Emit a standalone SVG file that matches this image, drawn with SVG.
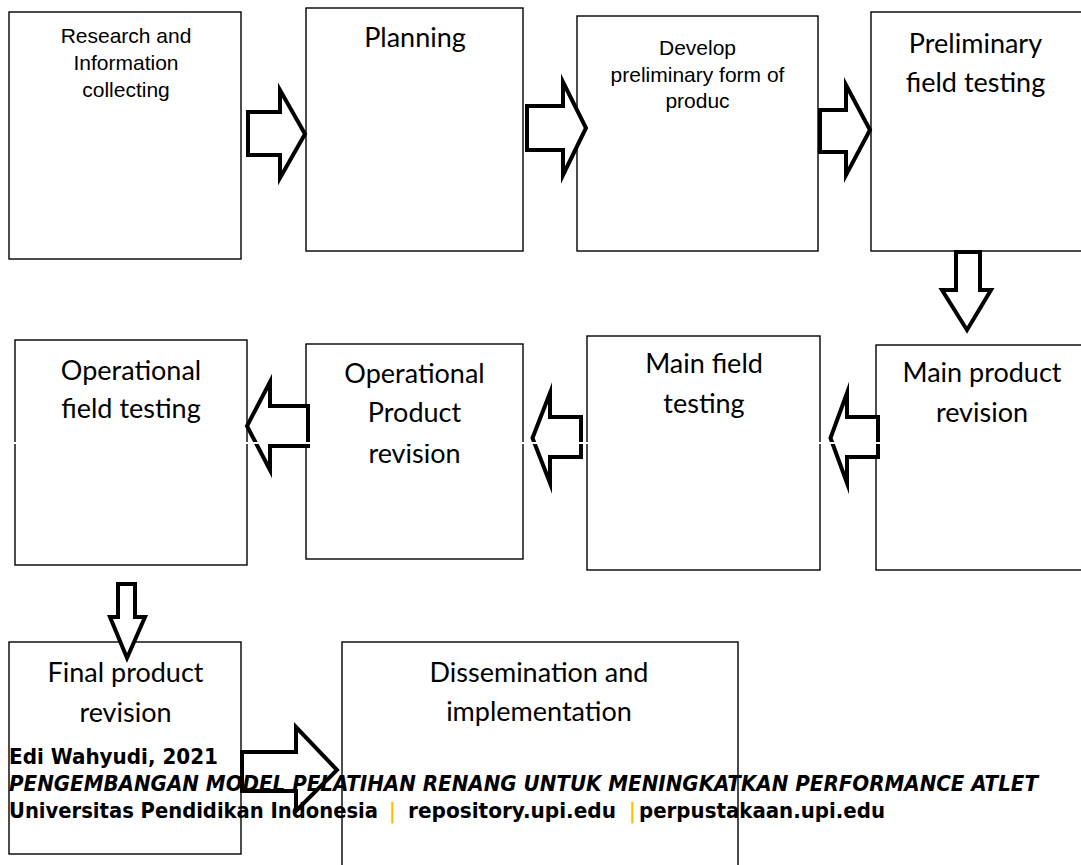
<svg xmlns="http://www.w3.org/2000/svg" width="1081" height="865" viewBox="0 0 1081 865">
  <style>
    .box { fill: #ffffff; stroke: #000000; stroke-width: 1.4; }
    .arrow { fill: #ffffff; stroke: #000000; stroke-width: 4; stroke-linejoin: miter; stroke-miterlimit: 10; }
    .arrow-inner { fill: none; stroke: #ffffff; stroke-width: 0.7; stroke-opacity: 0.6; }
    .sans { font-family: "Liberation Sans", Arial, sans-serif; font-size: 21px; fill: #000000; text-anchor: middle; }
    .label { font-family: Lato, "Open Sans", sans-serif; font-size: 27px; fill: #000000; text-anchor: middle; }
    .foot { font-family: "DejaVu Sans Condensed", "DejaVu Sans", sans-serif; font-weight: bold; font-size: 21px; fill: #000000; }
    .bar { fill: #FFC000; }
  </style>
  <defs>
    <path id="arrow-right-1" d="M248,112 H280 V90 L305,134 L280,178 V155 H248 Z"/>
  </defs>

  <rect width="1081" height="865" fill="#ffffff"/>

  <!-- first row -->
  <g id="node-research">
    <rect class="box" x="9" y="12" width="232" height="247"/>
    <text class="sans" x="126" y="43">Research and</text>
    <text class="sans" x="126" y="70">Information</text>
    <text class="sans" x="126" y="97">collecting</text>
  </g>
  <g id="node-planning">
    <rect class="box" x="306" y="8" width="217" height="243"/>
    <text class="label" x="415" y="47">Planning</text>
  </g>
  <g id="node-develop">
    <rect class="box" x="577" y="16" width="241" height="235"/>
    <text class="sans" x="697.5" y="55">Develop</text>
    <text class="sans" x="697.5" y="81.5">preliminary form of</text>
    <text class="sans" x="697.5" y="108">produc</text>
  </g>
  <g id="node-preliminary-testing">
    <rect class="box" x="871" y="12" width="212" height="239"/>
    <text class="label" x="975.5" y="53">Preliminary</text>
    <text class="label" x="975.5" y="92">field testing</text>
  </g>

  <!-- second row -->
  <g id="node-operational-testing">
    <rect class="box" x="15" y="340" width="232" height="225"/>
    <text class="label" x="131" y="380">Operational</text>
    <text class="label" x="131" y="418">field testing</text>
  </g>
  <g id="node-operational-revision">
    <rect class="box" x="306" y="344" width="217" height="215"/>
    <text class="label" x="414.5" y="383">Operational</text>
    <text class="label" x="414.5" y="422">Product</text>
    <text class="label" x="414.5" y="463">revision</text>
  </g>
  <g id="node-main-testing">
    <rect class="box" x="587" y="336" width="233" height="234"/>
    <text class="label" x="704" y="373">Main field</text>
    <text class="label" x="704" y="413">testing</text>
  </g>
  <g id="node-main-revision">
    <rect class="box" x="876" y="345" width="212" height="225"/>
    <text class="label" x="982" y="382">Main product</text>
    <text class="label" x="982" y="422">revision</text>
  </g>

  <!-- third row -->
  <g id="node-final-revision">
    <rect class="box" x="9" y="642" width="232" height="212"/>
    <text class="label" x="125.5" y="682">Final product</text>
    <text class="label" x="125.5" y="722">revision</text>
  </g>
  <g id="node-dissemination">
    <rect class="box" x="342" y="642" width="396" height="240"/>
    <text class="label" x="539" y="682">Dissemination and</text>
    <text class="label" x="539" y="721">implementation</text>
  </g>

  <!-- block arrows between the steps -->
  <g id="connectors">
    <path class="arrow" d="M248,112 H280 V90 L305,134 L280,178 V155 H248 Z"/>
    <path class="arrow" d="M527,106 H563 V82 L586,128 L563,175 V150 H527 Z"/>
    <path class="arrow" d="M820,110 H846 V85 L870,130 L846,175 V152 H820 Z"/>
    <path class="arrow" d="M956,252 V290 H942 L967,330 L991,290 H980 V252 Z"/>
    <path class="arrow" d="M878,417 H847 V393 L830.5,438 L847,483 V457 H878 Z"/>
    <path class="arrow" d="M581,417 H550 V393 L532.5,438 L550,483 V457 H581 Z"/>
    <path class="arrow" d="M308,406 H270 V382 L247,426 L270,470 V446 H308 Z"/>
    <path class="arrow" d="M118,584 V617 H110 L127,658 L145,617 H135 V584 Z"/>
    <path class="arrow" d="M242,752 H296 V727 L337,770 L296,811 V791 H242 Z"/>
  </g>

  <!-- thin break running across the second row -->
  <rect x="0" y="442" width="1081" height="2" fill="#ffffff"/>

  <!-- page footer -->
  <g id="footer">
    <text class="foot" x="9" y="764" textLength="209" lengthAdjust="spacingAndGlyphs">Edi Wahyudi, 2021</text>
    <text class="foot" x="9" y="791" font-style="italic" textLength="1029" lengthAdjust="spacingAndGlyphs">PENGEMBANGAN MODEL PELATIHAN RENANG UNTUK MENINGKATKAN PERFORMANCE ATLET</text>
    <text class="foot" x="9" y="818" textLength="369" lengthAdjust="spacingAndGlyphs">Universitas Pendidikan Indonesia</text>
    <text class="foot bar" x="389" y="818">|</text>
    <text class="foot" x="408" y="818" textLength="208" lengthAdjust="spacingAndGlyphs">repository.upi.edu</text>
    <text class="foot bar" x="629" y="818">|</text>
    <text class="foot" x="639" y="818" textLength="246" lengthAdjust="spacingAndGlyphs">perpustakaan.upi.edu</text>
  </g>
</svg>
